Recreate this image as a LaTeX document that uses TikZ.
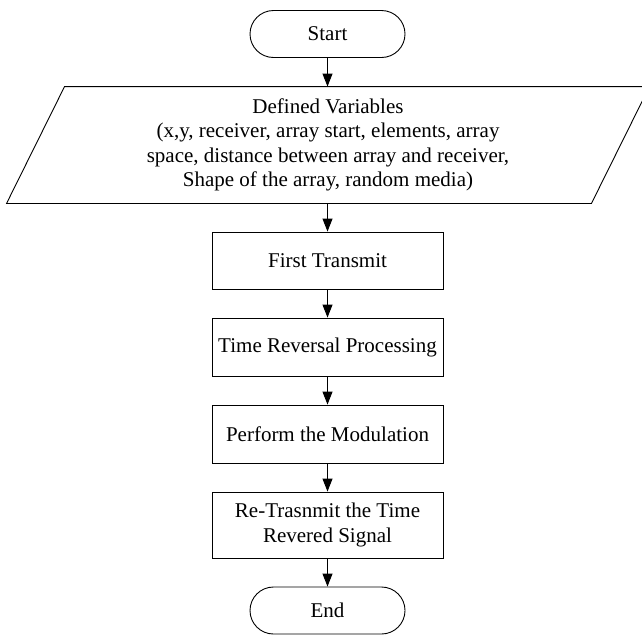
\documentclass[tikz,border=0pt]{standalone}
\usepackage{fontspec}
\setmainfont{Liberation Serif}
\usetikzlibrary{arrows.meta}
\begin{document}
\begin{tikzpicture}[x=1pt,y=-1pt,
  font=\fontsize{21}{24.5}\selectfont,
  line width=0.9pt,
  term/.style={draw, rounded corners=23.5pt, minimum width=155pt, minimum height=47pt, inner sep=0pt},
  procbox/.style={draw, minimum width=231pt, inner sep=0pt, align=center},
  flow/.style={-{Triangle[length=13pt,width=10pt]}}
]
\useasboundingbox (0,0) rectangle (642,635);
\clip (0,0) rectangle (642,635);
\node[term] (start) at (327.5,34) {Start};
\node[minimum width=584pt, minimum height=116pt, inner sep=0pt, align=center] (in) at (328,145)
  {Defined Variables\\(x,y, receiver, array start, elements, array\\space, distance between array and receiver,\\Shape of the array, random media)};
\draw ([xshift=29pt]in.north west) -- ([xshift=29pt]in.north east) -- ([xshift=-29pt]in.south east) -- ([xshift=-29pt]in.south west) -- cycle;
\node[procbox, minimum height=57pt] (b1) at (327.5,260.5) {First Transmit};
\node[procbox, minimum height=58pt] (b2) at (327.5,347) {Time Reversal Processing};
\node[procbox, minimum height=58pt] (b3) at (327.5,434) {Perform the Modulation};
\node[procbox, minimum height=66pt] (b4) at (327.5,525) {Re-Trasnmit the Time\\Revered Signal};
\node[term] (end) at (327.5,610.5) {End};
\draw[flow] (start.south) -- (in.north -| start.south);
\draw[flow] (in.south -| b1.north) -- (b1.north);
\draw[flow] (b1) -- (b2);
\draw[flow] (b2) -- (b3);
\draw[flow] (b3) -- (b4);
\draw[flow] (b4) -- (end);
\end{tikzpicture}
\end{document}
